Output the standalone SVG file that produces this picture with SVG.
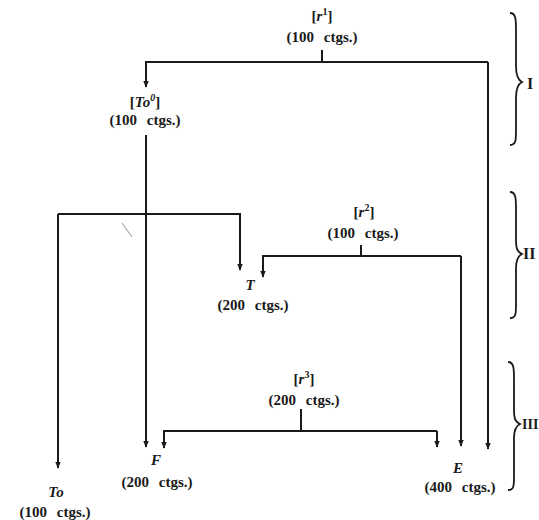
<svg xmlns="http://www.w3.org/2000/svg" width="539" height="520" viewBox="0 0 539 520">
<defs>
<marker id="ah" viewBox="0 0 10 10" refX="9" refY="5" markerWidth="7" markerHeight="7" markerUnits="userSpaceOnUse" orient="auto">
<path d="M0,1 L10,5 L0,9 Z" fill="#1a1a1a"/>
</marker>
<style>
.ln{fill:none;stroke:#1a1a1a;stroke-width:2}
.br{fill:none;stroke:#1a1a1a;stroke-width:1.8}
.t{font-family:"Liberation Serif","Times New Roman",serif;font-size:15px;font-weight:bold;fill:#1a1a1a;text-anchor:middle;word-spacing:6px}
.i{font-style:italic}
.s{font-size:10px}
.rom{font-family:"Liberation Serif","Times New Roman",serif;font-size:16px;font-weight:bold;fill:#1a1a1a}
</style>
</defs>
<rect width="539" height="520" fill="#ffffff"/>
<g id="connectors">
<path class="ln" d="M322,50 V62"/>
<path class="ln" d="M488,62 H146 V87" marker-end="url(#ah)"/>
<path class="ln" d="M488,62 V449" marker-end="url(#ah)"/>
<path class="ln" d="M146,135 V447" marker-end="url(#ah)"/>
<path class="ln" d="M58,214 H240 V270" marker-end="url(#ah)"/>
<path class="ln" d="M58,214 V468" marker-end="url(#ah)"/>
<path class="ln" d="M361,245 V256"/>
<path class="ln" d="M461,256 H263 V277" marker-end="url(#ah)"/>
<path class="ln" d="M461,256 V446" marker-end="url(#ah)"/>
<path class="ln" d="M301,409 V431"/>
<path class="ln" d="M437,431 H164 V448" marker-end="url(#ah)"/>
<path class="ln" d="M437,431 V447" marker-end="url(#ah)"/>
<path d="M122,223 L132,237" stroke="#aaa" stroke-width="1.2"/>
</g>
<g id="r1">
<text class="t" x="322" y="21">[<tspan class="i">r</tspan><tspan class="s" dy="-6">1</tspan><tspan dy="6">]</tspan></text>
<text class="t" x="322" y="42">(100 ctgs.)</text>
</g>
<g id="To0">
<text class="t" x="145" y="107">[<tspan class="i">To</tspan><tspan class="s i" dy="-6">0</tspan><tspan dy="6">]</tspan></text>
<text class="t" x="145" y="125">(100 ctgs.)</text>
</g>
<g id="r2">
<text class="t" x="364" y="217">[<tspan class="i">r</tspan><tspan class="s" dy="-6">2</tspan><tspan dy="6">]</tspan></text>
<text class="t" x="363" y="238">(100 ctgs.)</text>
</g>
<g id="T">
<text class="t i" x="250" y="290">T</text>
<text class="t" x="253" y="310">(200 ctgs.)</text>
</g>
<g id="r3">
<text class="t" x="304" y="384">[<tspan class="i">r</tspan><tspan class="s" dy="-6">3</tspan><tspan dy="6">]</tspan></text>
<text class="t" x="304" y="405">(200 ctgs.)</text>
</g>
<g id="F">
<text class="t i" x="156" y="465">F</text>
<text class="t" x="157" y="487">(200 ctgs.)</text>
</g>
<g id="E">
<text class="t i" x="458" y="473">E</text>
<text class="t" x="460" y="492">(400 ctgs.)</text>
</g>
<g id="To">
<text class="t i" x="56" y="497">To</text>
<text class="t" x="55" y="517">(100 ctgs.)</text>
</g>
<g id="brace-I">
<path class="br" d="M510,13 C516,13 516,20 516,30 V66 C516,76 518,80 522,82 C518,84 516,88 516,98 V130 C516,140 516,145 510,145"/>
<text class="rom" x="527" y="89">I</text>
</g>
<g id="brace-II">
<path class="br" d="M510,192 C516,192 516,199 516,209 V240 C516,250 518,252 522,254 C518,256 516,260 516,268 V304 C516,314 516,318 510,318"/>
<text class="rom" x="523" y="259">II</text>
</g>
<g id="brace-III">
<path class="br" d="M508,362 C514,362 514,369 514,379 V410 C514,420 516,422 520,424 C516,426 514,430 514,438 V476 C514,486 514,490 508,490"/>
<text class="rom" x="522" y="429" style="font-size:14px">III</text>
</g>
</svg>
